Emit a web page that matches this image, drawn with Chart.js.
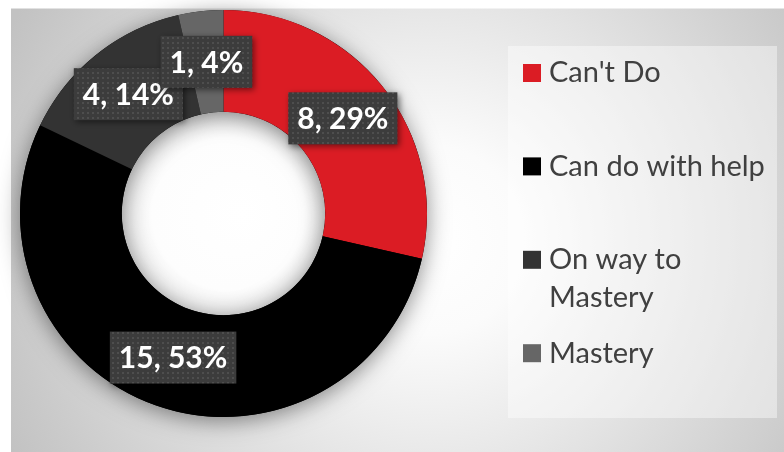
<!DOCTYPE html>
<html>
<head>
<meta charset="utf-8">
<script src="https://cdn.jsdelivr.net/npm/chart.js@4/dist/chart.umd.min.js"></script>
<style>
  body { margin: 0; background: #fff; }
  #wrap { width: 784px; height: 452px; }
</style>
</head>
<body>
<div id="wrap"><canvas id="chart" width="784" height="452"></canvas></div>
<script>
// data
var categories = ["Can't Do", "Can do with help", "On way to Mastery", "Mastery"];
var counts = [8, 15, 4, 1];
var percents = [29, 53, 14, 4];
var colors = ['#db1c24', '#000000', '#333333', '#666666'];

function makePattern(ctx){
    var p = document.createElement('canvas');
    p.width = 5; p.height = 5;
    var c = p.getContext('2d');
    c.fillStyle = '#3c3c3c';
    c.fillRect(0, 0, 5, 5);
    c.fillStyle = '#4e4e4e';
    c.fillRect(2, 2, 2, 2);
    return ctx.createPattern(p, 'repeat');
}

var backdrop = {
    id: 'backdrop',
    beforeDraw: function(chart){
        var ctx = chart.ctx;
        ctx.save();
        ctx.fillStyle = '#ffffff';
        ctx.fillRect(0, 0, chart.width, chart.height);
        var g = ctx.createRadialGradient(430, 240, 0, 430, 240, 470);
        g.addColorStop(0, '#ffffff');
        g.addColorStop(0.2, '#fbfbfb');
        g.addColorStop(1, '#c2c2c2');
        ctx.fillStyle = g;
        ctx.fillRect(11, 8, chart.width - 11, chart.height - 8);
        ctx.fillStyle = 'rgba(255,255,255,0.5)';
        ctx.fillRect(11, 8, chart.width - 11, 1);
        // legend panel
        ctx.fillStyle = 'rgba(255,255,255,0.42)';
        ctx.fillRect(508, 46, 269, 372);
        ctx.restore();
    },
    beforeDatasetsDraw: function(chart){
        var arc = chart.getDatasetMeta(0).data[0];
        var ctx = chart.ctx;
        var x = arc.x, y = arc.y, ro = arc.outerRadius, ri = arc.innerRadius;
        ctx.save();
        // hole
        var hg = ctx.createRadialGradient(x + 20, y, 0, x, y, ri);
        hg.addColorStop(0, '#ffffff');
        hg.addColorStop(0.75, '#fdfdfd');
        hg.addColorStop(1, '#ececec');
        ctx.fillStyle = hg;
        ctx.beginPath();
        ctx.arc(x, y, ri + 1, 0, Math.PI * 2);
        ctx.fill();
        // ring shadow
        ctx.shadowColor = 'rgba(0,0,0,0.45)';
        ctx.shadowBlur = 22;
        ctx.shadowOffsetY = 4;
        ctx.fillStyle = '#000';
        ctx.beginPath();
        ctx.arc(x, y, ro, 0, Math.PI * 2);
        ctx.arc(x, y, ri, 0, Math.PI * 2, true);
        ctx.fill();
        ctx.restore();
    },
    afterDatasetsDraw: function(chart){
        var ctx = chart.ctx;
        var pat = makePattern(ctx);
        var arcs = chart.getDatasetMeta(0).data;
        ctx.save();
        ctx.font = 'bold 30px Lato';
        ctx.textAlign = 'center';
        ctx.textBaseline = 'middle';
        arcs.forEach(function(a, i){
            var pos = a.tooltipPosition();
            var txt = counts[i] + ', ' + percents[i] + '%';
            var w = ctx.measureText(txt).width + 18;
            var h = 52;
            ctx.save();
            ctx.shadowColor = 'rgba(0,0,0,0.5)';
            ctx.shadowBlur = 6;
            ctx.shadowOffsetX = 2;
            ctx.shadowOffsetY = 2;
            ctx.fillStyle = pat;
            ctx.fillRect(pos.x - w / 2, pos.y - h / 2, w, h);
            ctx.restore();
            ctx.fillStyle = '#ffffff';
            ctx.fillText(txt, pos.x, pos.y + 1);
        });
        ctx.restore();
    },
    afterDraw: function(chart){
        var ctx = chart.ctx;
        ctx.save();
        ctx.font = '29px Lato';
        ctx.textBaseline = 'middle';
        ctx.textAlign = 'left';
        var maxW = 224;
        for (var i = 0; i < categories.length; i++){
            var y = 73 + i * 93.4;
            ctx.fillStyle = colors[i];
            ctx.fillRect(523, y - 9, 18, 18);
            ctx.fillStyle = '#404040';
            // simple word wrap
            var words = categories[i].split(' ');
            var line = '', ly = y;
            words.forEach(function(wd){
                var test = line ? line + ' ' + wd : wd;
                if (ctx.measureText(test).width > maxW && line){
                    ctx.fillText(line, 549, ly);
                    line = wd;
                    ly += 38;
                } else {
                    line = test;
                }
            });
            ctx.fillText(line, 549, ly);
        }
        ctx.restore();
    }
};

new Chart(document.getElementById('chart').getContext('2d'), {
    type: 'doughnut',
    data: {
        labels: categories,
        datasets: [{
            data: counts,
            backgroundColor: colors,
            borderWidth: 0
        }]
    },
    options: {
        responsive: false,
        animation: false,
        cutout: '50%',
        layout: {
            padding: {left: 20, right: 357, top: 10, bottom: 35}
        },
        plugins: {
            legend: {display: false},
            tooltip: {enabled: false}
        }
    },
    plugins: [backdrop]
});
</script>
</body>
</html>
